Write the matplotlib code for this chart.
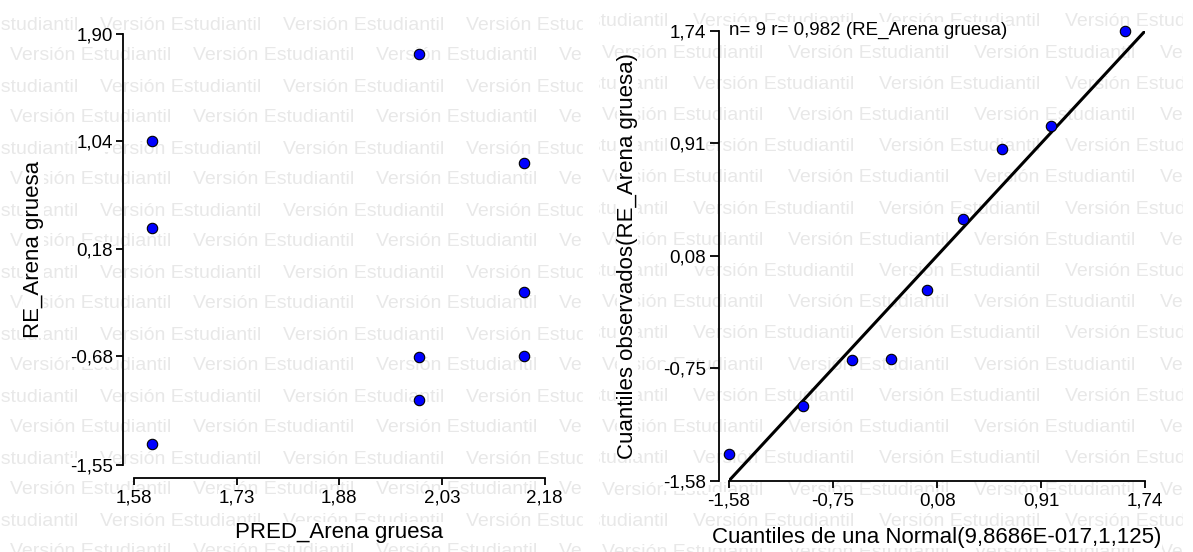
import matplotlib.pyplot as plt
import numpy as np

plt.rcParams['font.family'] = ['Liberation Sans', 'DejaVu Sans']

# predicted values and studentized residuals for "Arena gruesa"
pred = [1.606, 1.606, 1.606, 1.997, 1.997, 1.997, 2.150, 2.150, 2.150]
resid = [1.04, 0.35, -1.38, 1.74, -0.69, -1.03, 0.87, -0.17, -0.68]

pred_ticks = [1.58, 1.73, 1.88, 2.03, 2.18]
resid_ticks = [-1.55, -0.68, 0.18, 1.04, 1.90]

# theoretical normal quantiles for the Q-Q plot
normal_q = [-1.58, -0.99, -0.60, -0.29, 0.00, 0.29, 0.60, 0.99, 1.58]
qq_ticks = [-1.58, -0.75, 0.08, 0.91, 1.74]
r_value = 0.982

W, H = 1193, 552
fig = plt.figure(figsize=(W / 100, H / 100), dpi=100)
white = dict(facecolor='white', edgecolor='none', pad=0)


def comma(v, nd=2):
    return f'{v:.{nd}f}'.replace('.', ',')


def watermark(x0, x1, y0, dy, starts, period):
    bg = fig.add_axes([x0 / W, 0, (x1 - x0) / W, 1], zorder=0)
    bg.set_xlim(x0, x1)
    bg.set_ylim(H, 0)
    bg.axis('off')
    for i, y in enumerate(np.arange(y0, H + dy, dy)):
        x = starts[i % 2] - period
        while x < x1:
            bg.text(x, y + 7, 'Versión Estudiantil', fontsize=14,
                    color='#e8e8e8', ha='left', va='baseline', clip_on=True)
            x += period


watermark(0, 583, 22.5, 31.0, [100, 193], 183)
watermark(599, 1183, 19.5, 31.2, [693, 788], 186)


def style_axes(ax, xticks, yticks, left_off, bottom_off, ylen):
    ax.set_facecolor('none')
    ax.set_xlim(xticks[0], xticks[-1])
    ax.set_ylim(yticks[0], yticks[-1])
    ax.set_xticks(xticks, [comma(t) for t in xticks])
    ax.set_yticks(yticks, [comma(t) for t in yticks])
    for s in ['top', 'right']:
        ax.spines[s].set_visible(False)
    for s in ['left', 'bottom']:
        ax.spines[s].set_linewidth(1.3)
    ax.spines['left'].set_position(('outward', left_off))
    ax.spines['bottom'].set_position(('outward', bottom_off))
    ax.tick_params(axis='x', length=5, width=1.3, pad=3.3, labelsize=13.5)
    ax.tick_params(axis='y', length=ylen, width=1.3, pad=2.5, labelsize=13.5)
    for lab in ax.get_xticklabels() + ax.get_yticklabels():
        lab.set_bbox(white)


# residuals vs predicted
ax1 = fig.add_axes([133.9 / W, (H - 464.8) / H, 410.8 / W, 430.8 / H], zorder=1)
ax1.plot(pred, resid, 'o', ms=7.5, mfc='#0000ff', mec='k', mew=0.8,
         clip_on=False)
style_axes(ax1, pred_ticks, resid_ticks, 7.6, 9.7, 4.8)
ax1.set_xlabel('PRED_Arena gruesa', fontsize=16, va='center', bbox=white)
ax1.xaxis.set_label_coords(0.5, -0.156)
ax1.set_ylabel('RE_Arena gruesa', fontsize=16, va='center', bbox=white)
ax1.yaxis.set_label_coords(-0.2456, 0.5)

# normal Q-Q plot
ax2 = fig.add_axes([729 / W, (H - 480.7) / H, 416.3 / W, 450 / H], zorder=1)
lo, hi = qq_ticks[0], qq_ticks[-1]
ax2.plot([lo, hi], [lo, hi], color='k', lw=2.2)
ax2.plot(normal_q, np.sort(resid), 'o', ms=7.5, mfc='#0000ff', mec='k',
         mew=0.8, clip_on=False)
style_axes(ax2, qq_ticks, qq_ticks, 7.2, 0, 6.8)
ax2.text(lo, hi, f'n= {len(resid)} r= {comma(r_value, 3)} (RE_Arena gruesa)',
         fontsize=13.5, ha='left', va='center', bbox=white)
ax2.set_xlabel('Cuantiles de una Normal(9,8686E-017,1,125)', fontsize=16,
               va='center', bbox=white)
ax2.xaxis.set_label_coords(0.5, -0.126)
ax2.set_ylabel('Cuantiles observados(RE_Arena gruesa)', fontsize=16,
               va='center', bbox=white)
ax2.yaxis.set_label_coords(-0.2438, 0.5)

fig.savefig('out.png', dpi=100)
